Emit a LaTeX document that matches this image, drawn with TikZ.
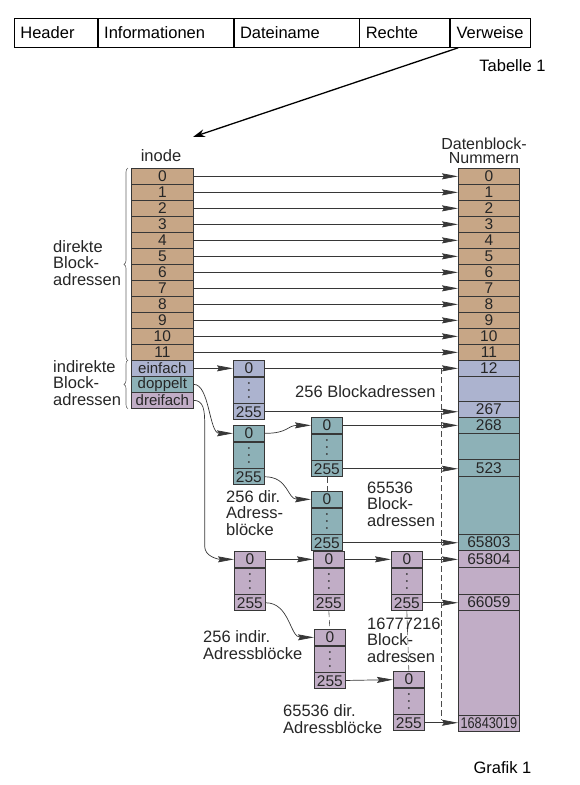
\documentclass[tikz,border=0pt]{standalone}
\usepackage{graphicx}
\usepackage{fontspec}
\setmainfont{Liberation Sans}
\usetikzlibrary{positioning,arrows.meta,decorations.pathreplacing,calc}

\definecolor{inodetan}{RGB}{199,166,134}
\definecolor{einfblue}{RGB}{172,179,207}
\definecolor{doppteal}{RGB}{141,177,183}
\definecolor{dreimauve}{RGB}{193,173,198}
\definecolor{scanline}{RGB}{55,55,55}

\newcommand{\numfont}{\fontsize{15.5}{15.5}\selectfont}
\newcommand{\wordfont}{\fontsize{15}{15}\selectfont}
\newcommand{\lblfont}{\fontsize{16.5}{16.5}\selectfont}
\newcommand{\tabfont}{\fontsize{16.5}{18}\selectfont}

\tikzset{
  tcell/.style={draw, line width=0.8pt, anchor=north west, minimum height=29pt,
    inner xsep=6pt, inner ysep=0pt, text width=#1, align=left, font=\tabfont},
  icell/.style={draw=scanline, line width=0.7pt, anchor=north west, minimum width=62pt,
    minimum height=16pt, inner sep=0pt, font=\numfont, text=black!85},
  dcell/.style={icell, minimum width=61pt},
  acell/.style={icell, minimum width=31pt, anchor=north},
  ptr/.style={draw=scanline, line width=0.7pt, -{Stealth[length=16pt,width=6pt,inset=2pt]}},
  dsh/.style={draw=black!70, line width=0.6pt, dash pattern=on 6pt off 3pt},
  brc/.style={draw=black!60, line width=0.6pt, decorate, decoration={brace,amplitude=4pt}},
  lbl/.style={font=\lblfont, text=black!85, align=left, anchor=west, inner sep=0pt},
}

% address block: name, top left corner, fill
\newcommand{\adrblock}[3]{%
  \node[acell, fill=#3, anchor=north west] (#1-0) at (#2) {0};
  \node[acell, fill=#3, minimum height=26pt] (#1-d) at (#1-0.south) {};
  \node[acell, fill=#3] (#1-255) at (#1-d.south) {255};
  \foreach \k in {-7,0,7}
    \fill[black!80] ($(#1-d.center)+(0,\k)$) circle (1pt);
}

\begin{document}
\begin{tikzpicture}[x=1pt,y=-1pt]
\useasboundingbox (0,0) rectangle (580,785);

% Tabelle 1
\node[tcell=71pt] (hdr) at (14,18) {Header};
\node[tcell=123pt, right=0pt of hdr] (inf) {Informationen};
\node[tcell=113pt, right=0pt of inf] (dtn) {Dateiname};
\node[tcell=78pt, right=0pt of dtn] (rch) {Rechte};
\node[tcell=68pt, right=0pt of rch] (vrw) {Verweise};
\node[anchor=east, font=\tabfont] (tab1) at (549,66) {Tabelle 1};

\coordinate (inotop) at (193,137);
\draw[line width=1.3pt, -{Stealth[length=12pt,width=8pt]}] ($(vrw.south west)+(8,0)$) -- (inotop);

% inode
\node[font=\lblfont, text=black!85] (inolbl) at (161,156) {inode};
\foreach \i in {0,...,11}
  \node[icell, fill=inodetan] (in\i) at (131,168+16*\i) {\i};
\node[icell, fill=einfblue, font=\wordfont] (einf) at (131,360) {einfach};
\node[icell, fill=doppteal, font=\wordfont] (dopp) at (131,376) {doppelt};
\node[icell, fill=dreimauve, font=\wordfont] (drei) at (131,392) {dreifach};

\draw[brc] ([xshift=-3pt]in11.south west) -- ([xshift=-3pt]in0.north west);
\draw[brc] ([xshift=-3pt]drei.south west) -- ([xshift=-3pt]einf.north west);
\node[lbl] (dirlbl) at (53,263) {direkte\\Block-\\adressen};
\node[lbl] (indlbl) at (53,383) {indirekte\\Block-\\adressen};

% Datenblock-Nummern
\node[font=\fontsize{16}{14.5}\selectfont, text=black!85, align=center] (dnlbl) at (484,151) {Datenblock-\\Nummern};
\foreach \i in {0,...,11}
  \node[dcell, fill=inodetan] (dn\i) at (458,168+16*\i) {\i};
\node[dcell, fill=einfblue] (d12) at (458,360) {12};
\node[dcell, fill=einfblue, minimum height=25pt] (dgap1) at (458,376) {};
\node[dcell, fill=einfblue] (d267) at (458,401) {267};
\node[dcell, fill=doppteal] (d268) at (458,417) {268};
\node[dcell, fill=doppteal, minimum height=26pt] (dgap2) at (458,433) {};
\node[dcell, fill=doppteal, minimum height=17pt] (d523) at (458,459) {523};
\node[dcell, fill=doppteal, minimum height=58pt] (dgap3) at (458,476) {};
\node[dcell, fill=doppteal] (d65803) at (458,534) {65803};
\node[dcell, fill=dreimauve, minimum height=17pt] (d65804) at (458,550) {65804};
\node[dcell, fill=dreimauve, minimum height=27pt] (dgap4) at (458,567) {};
\node[dcell, fill=dreimauve] (d66059) at (458,594) {66059};
\node[dcell, fill=dreimauve, minimum height=105pt] (dgap5) at (458,610) {};
\node[dcell, fill=dreimauve] (d16843019) at (458,715) {\scalebox{0.82}[1]{16843019}};

% Adressbloecke
\adrblock{sb}{233,360}{einfblue}
\adrblock{db}{233,425}{doppteal}
\adrblock{ob}{311,417}{doppteal}
\adrblock{obb}{311,491}{doppteal}
\adrblock{tb}{234,551}{dreimauve}
\adrblock{tc}{313,551}{dreimauve}
\adrblock{tcc}{314,629}{dreimauve}
\adrblock{tt}{391,551}{dreimauve}
\adrblock{ttt}{393,671}{dreimauve}

% direkte Verweise
\foreach \i in {0,...,11}
  \draw[ptr] (in\i) -- (dn\i);

% einfach
\draw[ptr] (einf) -- (sb-0);
\draw[ptr] (sb-0) -- (d12);
\draw[ptr] (sb-255.east) -- (sb-255.east -| d267.west);

% doppelt
\draw[ptr] (dopp.east) .. controls +(16,0) and +(-24,0) .. (db-0.west);
\draw[ptr] (db-0.east) .. controls +(24,0) and +(-24,0) .. (ob-0.west);
\draw[ptr] (db-255.east) .. controls +(24,0) and +(-24,0) .. (obb-0.west);
\draw[ptr] (ob-0.east) -- (ob-0.east -| d268.west);
\draw[ptr] (ob-255.east) -- (ob-255.east -| d523.west);
\draw[ptr] (obb-255.east) -- (obb-255.east -| d65803.west);
\draw[dsh] (ob-255.south) -- (obb-0.north);

% dreifach
\draw[ptr] (drei.east) .. controls +(10,0) and +(0,-14) .. ++(11,24) -- ++(0,122)
  .. controls +(0,10) and +(-16,0) .. (tb-0.west);
\draw[ptr] (tb-0) -- (tc-0);
\draw[ptr] (tc-0) -- (tt-0);
\draw[ptr] (tb-255.east) .. controls +(24,0) and +(-24,0) .. (tcc-0.west);
\draw[ptr] (tcc-255) -- (ttt-0);
\draw[ptr] (tt-0.east) -- (tt-0.east -| d65804.west);
\draw[ptr] (tt-255.east) -- (tt-255.east -| d66059.west);
\draw[ptr] (ttt-255.east) -- (ttt-255.east -| d16843019.west);
\draw[dsh] (tc-255.south) -- (tcc-0.north);
\draw[dsh] (tt-255.south) -- (ttt-0.north);

\coordinate (dtop) at (441,368);
\coordinate (dbot) at (441,720);
\draw[dsh] (dtop) -- (dbot);

% Beschriftungen
\node[lbl] (sblbl) at (295,392) {256 Blockadressen};
\node[lbl] (dblbl) at (226,513) {256 dir.\\Adress-\\blöcke};
\node[lbl] (oblbl) at (367,504) {65536\\Block-\\adressen};
\node[lbl] (tblbl) at (203,645) {256 indir.\\Adressblöcke};
\node[lbl] (tclbl) at (367,640) {16777216\\Block-\\adressen};
\node[lbl] (ttlbl) at (283,719) {65536 dir.\\Adressblöcke};
\node[anchor=west, font=\tabfont] (graf1) at (470,768) {Grafik 1};
\end{tikzpicture}
\end{document}
